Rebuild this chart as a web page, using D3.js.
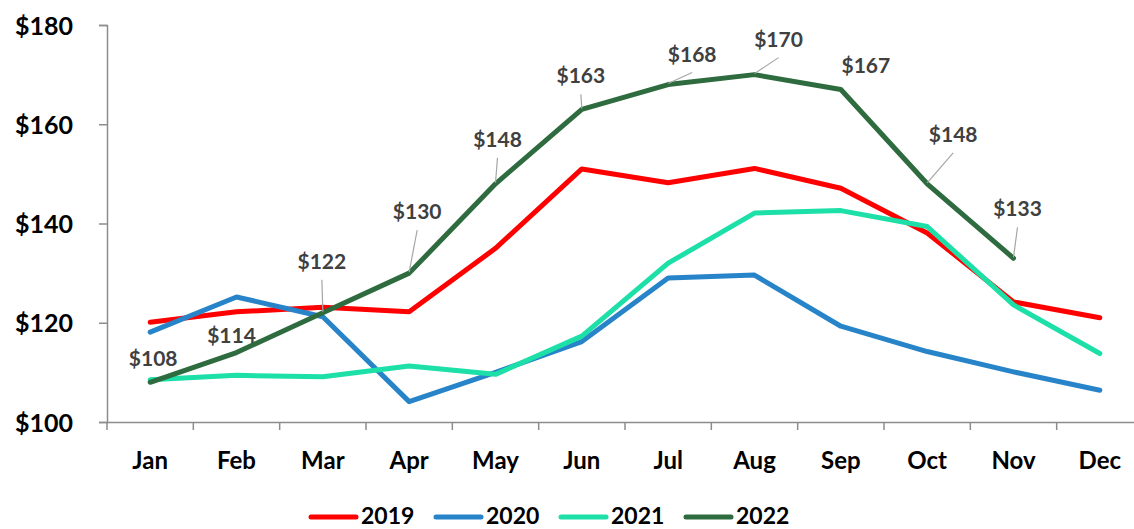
<!DOCTYPE html>
<html>
<head>
<meta charset="utf-8">
<script src="https://cdn.jsdelivr.net/npm/d3@7"></script>
<style>
  html, body { margin: 0; padding: 0; background: #fff; }
  svg { display: block; }
  text { font-family: Lato, "Open Sans", sans-serif; font-weight: 700; }
</style>
</head>
<body>
<svg id="chart" width="1134" height="529"></svg>
<script>
const months = ["Jan","Feb","Mar","Apr","May","Jun","Jul","Aug","Sep","Oct","Nov","Dec"];
const seriesNames = ["2019","2020","2021","2022"];
const v2019 = [120.1, 122.2, 123.1, 122.2, 135, 151, 148.2, 151.1, 147.1, 138.1, 124.2, 121];
const v2020 = [118.1, 125.2, 121.2, 104.1, 110, 116.2, 129, 129.6, 119.3, 114.2, 110.1, 106.4];
const v2021 = [108.5, 109.4, 109.1, 111.3, 109.6, 117.3, 132, 142.1, 142.6, 139.4, 123.6, 113.8];
const v2022 = [108, 114, 122, 130, 148, 163, 168, 170, 167, 148, 133, null];
const yTicks = [100, 120, 140, 160, 180];

const colors = ["#ff0000", "#2784c8", "#1ddfa8", "#2e6b3f"];
// label offsets (relative to the point) for 2022 data labels: [dx, dy(baseline), leader]
const labelOffsets = [[3,-16,false],[-5,-10,false],[-1,-44,true],[8,-54,true],[2,-37,true],[-1,-26,true],
                      [24,-23,true],[24,-28,true],[25,-17,false],[26,-42,true],[4,-42,true]];

const svg = d3.select("#chart");
const x = d3.scaleBand().domain(months).range([107, 1143]);
const y = d3.scaleLinear().domain([100, 180]).range([422, 25]);
const axisColor = "#8c8c8c";

// Y axis
const yAxis = svg.append("g").attr("transform", "translate(107,0)")
  .call(d3.axisLeft(y).tickValues(yTicks).tickSize(8).tickPadding(26).tickFormat(d => "$" + d));
yAxis.select(".domain").attr("stroke", axisColor).attr("stroke-width", 1.5);
yAxis.selectAll(".tick line").attr("stroke", axisColor).attr("stroke-width", 1.5);
yAxis.selectAll(".tick text").attr("font-size", 25).attr("fill", "#000")
  .attr("font-family", "Lato, sans-serif").attr("font-weight", 700).attr("dy", "0.36em");

// X axis
const xAxis = svg.append("g").attr("transform", "translate(0,422)")
  .call(d3.axisBottom(x).tickSize(0).tickSizeOuter(0));
xAxis.select(".domain").attr("stroke", axisColor).attr("stroke-width", 1.5);
xAxis.selectAll(".tick text").attr("font-size", 24).attr("fill", "#000")
  .attr("font-family", "Lato, sans-serif").attr("font-weight", 700)
  .attr("y", 47).attr("dy", null);
const bounds = months.map(m => x(m)).concat([x.range()[1]]);
xAxis.selectAll(".bound").data(bounds).join("line").attr("class", "bound")
  .attr("x1", d => d).attr("x2", d => d).attr("y1", 0).attr("y2", 8)
  .attr("stroke", axisColor).attr("stroke-width", 1.5);

// Lines
const allSeries = [v2019, v2020, v2021, v2022];
const line = d3.line()
  .defined(d => d != null)
  .x((d, i) => x(months[i]) + x.bandwidth() / 2)
  .y(d => y(d));
allSeries.forEach((s, k) => {
  svg.append("path").datum(s)
    .attr("d", line)
    .attr("fill", "none")
    .attr("stroke", colors[k])
    .attr("stroke-width", 5)
    .attr("stroke-linejoin", "round")
    .attr("stroke-linecap", "round");
});

// Data labels for 2022
const lbl = svg.append("g");
v2022.forEach((v, i) => {
  if (v == null) return;
  const px = x(months[i]) + x.bandwidth() / 2, py = y(v);
  const [dx, dy, leader] = labelOffsets[i];
  if (leader) {
    lbl.append("line")
      .attr("x1", px + dx).attr("y1", py + dy + 11)
      .attr("x2", px).attr("y2", py - 1)
      .attr("stroke", "#a6a6a6").attr("stroke-width", 1.2);
  }
  lbl.append("text")
    .attr("x", px + dx).attr("y", py + dy)
    .attr("text-anchor", "middle")
    .attr("font-size", 21).attr("fill", "#404040")
    .text("$" + Math.round(v));
});

// Legend
const leg = svg.append("g");
seriesNames.forEach((name, k) => {
  const lx = 309 + k * 125;
  leg.append("line").attr("x1", lx + 2).attr("x2", lx + 47).attr("y1", 517).attr("y2", 517)
    .attr("stroke", colors[k]).attr("stroke-width", 5).attr("stroke-linecap", "round");
  leg.append("text").attr("x", lx + 52).attr("y", 524)
    .attr("font-size", 23).attr("fill", "#000").text(name);
});
</script>
</body>
</html>
